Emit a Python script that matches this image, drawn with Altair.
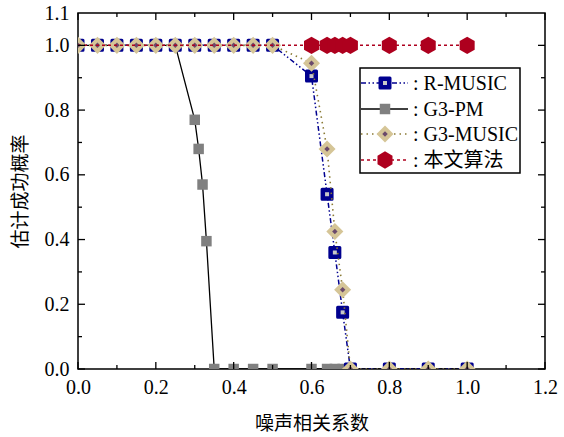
import altair as alt
import pandas as pd

# ---- data ----
x_music = [0.0, 0.05, 0.10, 0.15, 0.20, 0.25, 0.30, 0.35, 0.40, 0.45, 0.50,
           0.60, 0.64, 0.66, 0.68, 0.70, 0.80, 0.90, 1.00]
rmusic_y = [1.0, 1.0, 1.0, 1.0, 1.0, 1.0, 1.0, 1.0, 1.0, 1.0, 1.0,
            0.905, 0.54, 0.36, 0.175, 0.0, 0.0, 0.0, 0.0]
g3music_y = [1.0, 1.0, 1.0, 1.0, 1.0, 1.0, 1.0, 1.0, 1.0, 1.0, 1.0,
             0.945, 0.68, 0.425, 0.245, 0.0, 0.0, 0.0, 0.0]
ours_y = [1.0, 1.0, 1.0, 1.0, 1.0, 1.0, 1.0, 1.0, 1.0, 1.0, 1.0,
          1.0, 1.0, 1.0, 1.0, 1.0, 1.0, 1.0, 1.0]
x_pm = [0.0, 0.05, 0.10, 0.15, 0.20, 0.25, 0.30, 0.31, 0.32, 0.33, 0.35,
        0.40, 0.45, 0.50, 0.60, 0.64, 0.66, 0.68, 0.70, 0.80, 0.90, 1.00]
pm_y = [1.0, 1.0, 1.0, 1.0, 1.0, 1.0, 0.77, 0.68, 0.57, 0.395, 0.0,
        0.0, 0.0, 0.0, 0.0, 0.0, 0.0, 0.0, 0.0, 0.0, 0.0, 0.0]

series_names = ["R-MUSIC", "G3-PM", "G3-MUSIC", "本文算法"]
x_ticks_major = [0.0, 0.2, 0.4, 0.6, 0.8, 1.0, 1.2]
x_ticks_minor = [0.1, 0.3, 0.5, 0.7, 0.9, 1.1]
y_labels = [0.0, 0.2, 0.4, 0.6, 0.8, 1.0, 1.1]
y_ticks_major = [0.0, 0.2, 0.4, 0.6, 0.8, 1.0]
y_ticks_minor = [0.1, 0.3, 0.5, 0.7, 0.9]
x_title = "噪声相关系数"
y_title = "估计成功概率"

# ---- styling ----
W, H = 467, 356
FONT = "'Liberation Serif', 'Noto Sans CJK SC', serif"
NAVY = "#00008F"
TAN = "#D5C597"
PURPLE = "#6B4A6B"
OLIVE = "#8A7A35"
RED = "#AE001E"
GRAY = "#808080"
HEX = "M0,-1L0.866,-0.5L0.866,0.5L0,1L-0.866,0.5L-0.866,-0.5Z"
MAJ, MIN = 7, 4

df_r = pd.DataFrame({"x": x_music, "y": rmusic_y})
df_g = pd.DataFrame({"x": x_music, "y": g3music_y})
df_o = pd.DataFrame({"x": x_music, "y": ours_y})
df_p = pd.DataFrame({"x": x_pm, "y": pm_y})

xs = alt.Scale(domain=[0, 1.2], nice=False, zero=False)
ys = alt.Scale(domain=[0, 1.1], nice=False, zero=False)

main_x = alt.Axis(orient="bottom", values=x_ticks_major, format=".1f", ticks=False,
                  domain=False, grid=False, labelPadding=8, labelFlush=False,
                  labelOverlap=False, title=x_title, titlePadding=17,
                  labelFontSize=20, titleFontSize=19, labelFont=FONT, titleFont=FONT,
                  labelColor="black", titleColor="black", titleFontWeight="normal")
main_y = alt.Axis(orient="left", values=y_labels, format=".1f", ticks=False,
                  domain=False, grid=False, labelPadding=9, labelFlush=False,
                  labelOverlap=False, title=y_title, titlePadding=14,
                  labelFontSize=20, titleFontSize=19, labelFont=FONT, titleFont=FONT,
                  labelColor="black", titleColor="black", titleFontWeight="normal")


def enc(xaxis=None, yaxis=None):
    return dict(
        x=alt.X("x:Q", scale=xs, axis=xaxis),
        y=alt.Y("y:Q", scale=ys, axis=yaxis),
    )


# ---- inward ticks, positioned through the shared scales ----
tick_layers = []
for vals, ln in ((x_ticks_major, MAJ), (x_ticks_minor, MIN)):
    d = alt.Chart(pd.DataFrame({"x": vals}))
    tick_layers.append(d.mark_rule(color="black", strokeWidth=1.3).encode(
        x=alt.X("x:Q", scale=xs, axis=None), y=alt.value(H), y2=alt.value(H - ln)))
    tick_layers.append(d.mark_rule(color="black", strokeWidth=1.3).encode(
        x=alt.X("x:Q", scale=xs, axis=None), y=alt.value(0), y2=alt.value(ln)))
for vals, ln in ((y_ticks_major, MAJ), (y_ticks_minor, MIN)):
    d = alt.Chart(pd.DataFrame({"y": vals}))
    tick_layers.append(d.mark_rule(color="black", strokeWidth=1.3).encode(
        y=alt.Y("y:Q", scale=ys, axis=None), x=alt.value(0), x2=alt.value(ln)))
    tick_layers.append(d.mark_rule(color="black", strokeWidth=1.3).encode(
        y=alt.Y("y:Q", scale=ys, axis=None), x=alt.value(W), x2=alt.value(W - ln)))

# G3-PM
pm_line = alt.Chart(df_p).mark_line(color="black", strokeWidth=1.3, clip=True).encode(
    **enc(main_x, main_y))
pm_pts = alt.Chart(df_p).mark_point(shape="square", filled=True, size=110, color=GRAY,
                                    opacity=1, clip=True).encode(**enc())

# R-MUSIC
rm_line = alt.Chart(df_r).mark_line(color=NAVY, strokeWidth=1.5,
                                    strokeDash=[5, 2.5, 1.5, 2.5, 1.5, 2.5], clip=True).encode(**enc())
rm_pts = alt.Chart(df_r).mark_point(shape="square", filled=True, size=100, color=NAVY,
                                    stroke=NAVY, strokeWidth=3, strokeJoin="round",
                                    opacity=1, clip=True).encode(**enc())
rm_ctr = alt.Chart(df_r).mark_point(shape="square", filled=True, size=16, color="#C8C8C8",
                                    opacity=1, clip=True).encode(**enc())

# G3-MUSIC
g_line = alt.Chart(df_g).mark_line(color=OLIVE, strokeWidth=1.6, strokeDash=[1.5, 4],
                                   clip=True).encode(**enc())
g_pts = alt.Chart(df_g).mark_point(shape="diamond", filled=True, size=290, color=TAN,
                                   opacity=1, clip=True).encode(**enc())
g_ctr = alt.Chart(df_g).mark_point(shape="diamond", filled=True, size=30, color=PURPLE,
                                   opacity=1, clip=True).encode(**enc())

# 本文算法
o_line = alt.Chart(df_o).mark_line(color=RED, strokeWidth=1.5, strokeDash=[3, 3],
                                   clip=True).encode(**enc())
o_pts = alt.Chart(df_o).transform_filter(alt.datum.x >= 0.55).mark_point(
    shape=HEX, filled=True, size=300, color=RED, opacity=1, clip=True).encode(**enc())

# ---- legend (drawn manually) ----
LX0, LX1, LY0, LY1 = 282, 442, 55, 160
row_y = [70, 96, 121, 147]
legend_box = alt.Chart(pd.DataFrame({"k": [0]})).mark_rect(
    fill="white", stroke="black", strokeWidth=1.5).encode(
    x=alt.value(LX0), x2=alt.value(LX1), y=alt.value(LY0), y2=alt.value(LY1))

leg_layers = [legend_box]
line_styles = [
    dict(color=NAVY, strokeWidth=1.5, strokeDash=[5, 2.5, 1.5, 2.5, 1.5, 2.5]),
    dict(color="black", strokeWidth=1.5),
    dict(color=OLIVE, strokeWidth=1.6, strokeDash=[1.5, 4]),
    dict(color=RED, strokeWidth=1.5, strokeDash=[3, 3]),
]
marker_styles = [
    [dict(shape="square", filled=True, size=100, color=NAVY, stroke=NAVY, strokeWidth=3,
          strokeJoin="round", opacity=1),
     dict(shape="square", filled=True, size=16, color="#C8C8C8", opacity=1)],
    [dict(shape="square", filled=True, size=110, color=GRAY, opacity=1)],
    [dict(shape="diamond", filled=True, size=290, color=TAN, opacity=1),
     dict(shape="diamond", filled=True, size=30, color=PURPLE, opacity=1)],
    [dict(shape=HEX, filled=True, size=300, color=RED, opacity=1)],
]
for i, name in enumerate(series_names):
    d = pd.DataFrame({"label": [": " + name]})
    yy = row_y[i]
    base = alt.Chart(d)
    leg_layers.append(base.mark_rule(**line_styles[i]).encode(
        x=alt.value(LX0 + 1), x2=alt.value(LX0 + 48), y=alt.value(yy)))
    for ms in marker_styles[i]:
        leg_layers.append(base.mark_point(**ms).encode(x=alt.value(LX0 + 25), y=alt.value(yy)))
    leg_layers.append(base.mark_text(align="left", baseline="middle", fontSize=20,
                                     font=FONT, color="black").encode(
        x=alt.value(LX0 + 53), y=alt.value(yy + 1), text="label:N"))

chart = alt.layer(
    pm_line, pm_pts, rm_line, rm_pts, rm_ctr, g_line, g_pts, g_ctr, o_line, o_pts,
    *tick_layers, *leg_layers
).resolve_axis(x="independent", y="independent").properties(
    width=W, height=H,
    autosize=alt.AutoSizeParams(type="none"),
    padding={"left": 78, "top": 13, "right": 19, "bottom": 68},
    background="white",
).configure_view(stroke="black", strokeWidth=1.5)

chart.save("out.html", embed_options={"renderer": "svg", "actions": False})
